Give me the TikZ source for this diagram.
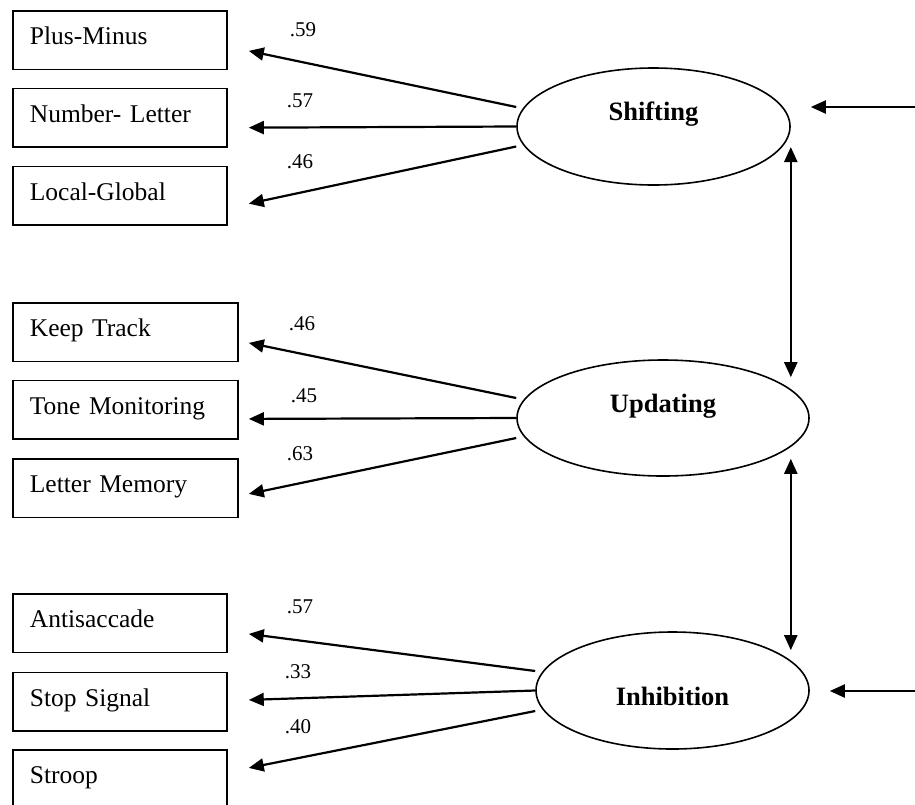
\documentclass[tikz,border=0pt]{standalone}
\usepackage{fontspec}
\setmainfont{Liberation Serif}
\usetikzlibrary{arrows.meta,shapes.geometric,calc}
\begin{document}
\begin{tikzpicture}[x=1pt,y=-1pt,
  task/.style={draw, line width=1.8pt, anchor=north west, minimum height=58.5pt,
    inner xsep=17pt, inner ysep=0pt, text width=#1, align=left,
    font=\fontsize{25.5}{28}\selectfont, text height=18pt, text depth=9pt},
  factor/.style={draw, ellipse, line width=1.6pt, inner sep=0pt,
    font=\fontsize{26.5}{30}\selectfont\bfseries},
  tip/.tip={Triangle[length=15pt,width=13pt]},
  load/.style={line width=2.2pt, -tip},
  corr/.style={line width=2.2pt, tip-tip},
  coef/.style={font=\fontsize{21}{24}\selectfont, inner sep=0pt}]
\useasboundingbox (0,0) rectangle (915,804);
\clip (0,0) rectangle (915,804);

% latent factors
\node[factor, minimum width=273pt, minimum height=117pt, text height=18pt, text depth=31pt]
  (shift) at (653.5,126.5) {Shifting};
\node[factor, minimum width=292pt, minimum height=116pt, text height=18pt, text depth=30pt]
  (upd) at (663,418) {Updating};
\node[factor, minimum width=273pt, minimum height=117pt, text height=35pt, text depth=6pt]
  (inh) at (672.5,690.5) {Inhibition};

% observed tasks
\node[task=180pt] (pm) at (12,10) {Plus-Minus};
\node[task=180pt] (nl) at (12,87.5) {Number- Letter};
\node[task=180pt] (lg) at (12,165.5) {Local-Global};
\node[task=191pt] (kt) at (12,302) {Keep Track};
\node[task=191pt] (tm) at (12,379.5) {Tone Monitoring};
\node[task=191pt] (lm) at (12,458) {Letter Memory};
\node[task=180pt] (anti) at (12,593) {Antisaccade};
\node[task=180pt] (ss) at (12,671.5) {Stop Signal};
\node[task=180pt] (st) at (12,749) {Stroop};

% factor loadings
\draw[load] ($(shift.west)+(0,-19.5)$) -- ($(pm.east)+(21,10.75)$);
\draw[load] (shift.west) -- ($(nl.east)+(21,10)$);
\draw[load] ($(shift.west)+(0,20)$) -- ($(lg.east)+(21,8)$);
\draw[load] ($(upd.west)+(0,-20)$) -- ($(kt.east)+(10,10.75)$);
\draw[load] (upd.west) -- ($(tm.east)+(10,9.25)$);
\draw[load] ($(upd.west)+(0,20)$) -- ($(lm.east)+(10,5.75)$);
\draw[load] ($(inh.west)+(0,-19.5)$) -- ($(anti.east)+(21,10.75)$);
\draw[load] (inh.west) -- ($(ss.east)+(21,-1.75)$);
\draw[load] ($(inh.west)+(0,20.5)$) -- ($(st.east)+(21,-11.25)$);

% loading values
\node[coef] (c1) at (303,30) {.59};
\node[coef] (c2) at (300,101) {.57};
\node[coef] (c3) at (300,162) {.46};
\node[coef] (c4) at (302,324) {.46};
\node[coef] (c5) at (304,396) {.45};
\node[coef] (c6) at (300,454) {.63};
\node[coef] (c7) at (300,607) {.57};
\node[coef] (c8) at (298,672) {.33};
\node[coef] (c9) at (298,727) {.40};

% correlations between factors
\draw[corr] ($(shift.east)+(0,20.5)$) -- ($(shift.east |- upd.north)+(0,18)$);
\draw[corr] ($(shift.east |- upd.south)+(0,-18)$) -- ($(shift.east |- inh.north)+(0,19)$);

% incoming arrows from the right
\coordinate (e1) at (915,107);
\coordinate (e2) at (915,691);
\draw[load] (e1) -- ($(shift.east)+(20,-19.5)$);
\draw[load] (e2) -- ($(inh.east)+(20,0.5)$);
\end{tikzpicture}
\end{document}
